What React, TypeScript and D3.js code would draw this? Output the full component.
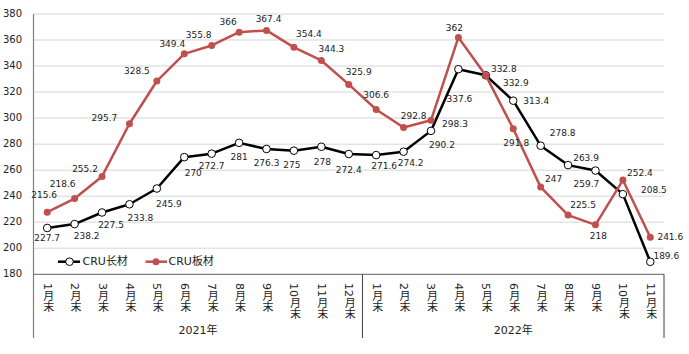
import React from "react";
import * as d3 from "d3";

// categories, 2021 Jan..Dec then 2022 Jan..Nov
const months = ["1月末","2月末","3月末","4月末","5月末","6月末","7月末","8月末","9月末","10月末","11月末","12月末",
  "1月末","2月末","3月末","4月末","5月末","6月末","7月末","8月末","9月末","10月末","11月末"];
const years = [{ name: "2021年", from: 0, to: 12 }, { name: "2022年", from: 12, to: 23 }];

const longSteel = [215.6,218.6,227.5,233.8,245.9,270,272.7,281,276.3,275,278,272.4,
  271.6,274.2,290.2,337.6,332.9,313.4,278.8,263.9,259.7,241.6,189.6];
const flatSteel = [227.7,238.2,255.2,295.7,328.5,349.4,355.8,366,367.4,354.4,344.3,325.9,
  306.6,292.8,298.3,362,332.8,291.8,247,225.5,218,252.4,208.5];

// the labels as printed on the original (a few are swapped there)
const longLabels = ["227.7","238.2","227.5","233.8","245.9","270","272.7","281","276.3","275","278","272.4",
  "271.6","274.2","290.2","337.6","332.9","313.4","278.8","263.9","259.7","208.5","189.6"];
const flatLabels = ["215.6","218.6","255.2","295.7","328.5","349.4","355.8","366","367.4","354.4","344.3","325.9",
  "306.6","292.8","298.3","362","332.8","291.8","247","225.5","218","252.4","241.6"];

const yTicks = [180,200,220,240,260,280,300,320,340,360,380];

// label offsets from their point
const longOff: [number, number][] = [[0,11],[12,12],[9,13],[11,14],[12,16],[9,16],[0,13],[0,15],[0,15],[-2,15],[1,16],[0,16],
  [8,11],[7,12],[11,15],[1,30],[30,8],[23,1],[22,-12],[18,-7],[-9,14],[31,-4],[16,-5]];
const flatOff: [number, number][] = [[-3,-17],[-12,-14],[-17,-7],[-25,-5],[-20,-10],[-12,-9],[-13,-10],[-11,-10],[2,-11],[15,-13],[10,-11],[10,-12],
  [0,-14],[10,-11],[24,4],[-4,-9],[18,-6],[3,15],[13,-8],[15,-10],[3,12],[17,-7],[20,0]];

const W = 689, H = 354;
const left = 33.5, right = 664, top = 14, bottom = 274.3, catBottom = 338;
const font = "'DejaVu Sans', 'Noto Sans CJK SC', sans-serif";
const RED = "#c0504d";

export default function App() {
  const x = d3.scaleBand<number>().domain(d3.range(months.length)).range([left, right]);
  const y = d3.scaleLinear().domain([180, 380]).range([bottom, top]);
  const cx = (i: number) => (x(i) as number) + x.bandwidth() / 2;
  const line = d3.line<number>().x((d, i) => cx(i)).y(d => y(d));

  return (
    <svg width={W} height={H} style={{ position: "absolute", left: 0, top: 0, background: "#fff" }} fontFamily={font}>
      {yTicks.slice(1).map(t => (
        <line key={t} x1={left} x2={right} y1={y(t)} y2={y(t)} stroke="#e3e3e3" strokeWidth={1.5} />
      ))}
      {yTicks.map(t => (
        <text key={"t" + t} x={left - 11.5} y={y(t)} textAnchor="end" dominantBaseline="middle" fontSize={10} fill="#222">{t}</text>
      ))}
      <line x1={left} x2={right} y1={bottom} y2={bottom} stroke="#7f7f7f" strokeWidth={1.2} />
      <line x1={left} x2={left} y1={top} y2={catBottom} stroke="#7f7f7f" strokeWidth={1.2} />
      {years.map(g => (
        <g key={g.name}>
          <line x1={x(g.to - 1)! + x.bandwidth()} x2={x(g.to - 1)! + x.bandwidth()} y1={bottom} y2={catBottom} stroke="#404040" strokeWidth={1} />
          <text x={(x(g.from)! + x(g.to - 1)! + x.bandwidth()) / 2} y={331} textAnchor="middle" dominantBaseline="middle" fontSize={11} fill="#222">{g.name}</text>
        </g>
      ))}
      {months.map((m, i) => (
        <text key={"m" + i} x={cx(i)} y={283} fontSize={11} fill="#222"
          style={{ writingMode: "vertical-rl", textOrientation: "mixed" } as any}>{m}</text>
      ))}

      <path d={line(longSteel) || ""} fill="none" stroke="#000" strokeWidth={2.5} strokeLinejoin="round" />
      {longSteel.map((v, i) => (
        <circle key={"lc" + i} cx={cx(i)} cy={y(v)} r={3.8} fill="#fff" stroke="#000" strokeWidth={1} />
      ))}
      <path d={line(flatSteel) || ""} fill="none" stroke={RED} strokeWidth={2.5} strokeLinejoin="round" />
      {flatSteel.map((v, i) => (
        <circle key={"fc" + i} cx={cx(i)} cy={y(v)} r={3.5} fill={RED} />
      ))}

      {longSteel.map((v, i) => (
        <text key={"ll" + i} x={cx(i) + longOff[i][0]} y={y(v) + longOff[i][1]} textAnchor="middle" dominantBaseline="middle" fontSize={9} fill="#222">{longLabels[i]}</text>
      ))}
      {flatSteel.map((v, i) => (
        <text key={"fl" + i} x={cx(i) + flatOff[i][0]} y={y(v) + flatOff[i][1]} textAnchor="middle" dominantBaseline="middle" fontSize={9} fill="#222">{flatLabels[i]}</text>
      ))}

      {/* legend */}
      <g fontSize={11} fill="#222">
        <line x1={58} x2={80} y1={261.7} y2={261.7} stroke="#000" strokeWidth={2.5} />
        <circle cx={69.5} cy={261.7} r={3.8} fill="#fff" stroke="#000" strokeWidth={1} />
        <text x={82.5} y={261.7} dominantBaseline="middle">CRU长材</text>
        <line x1={145.5} x2={167} y1={261.7} y2={261.7} stroke={RED} strokeWidth={2.5} />
        <circle cx={156} cy={261.7} r={3.5} fill={RED} />
        <text x={168.5} y={261.7} dominantBaseline="middle">CRU板材</text>
      </g>
    </svg>
  );
}
